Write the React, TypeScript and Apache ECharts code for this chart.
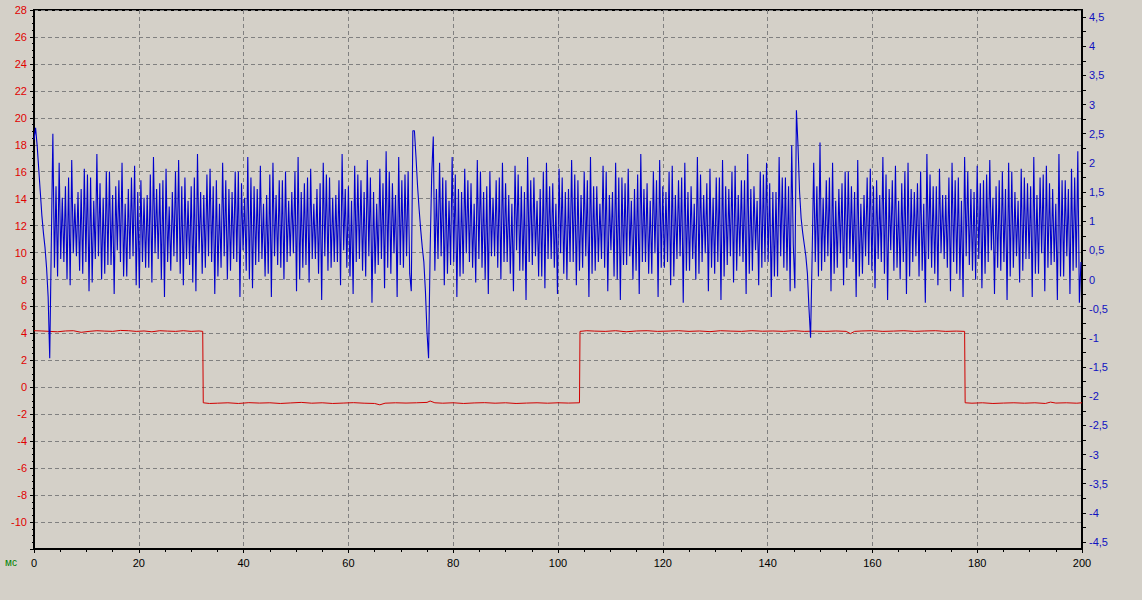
import React, { useEffect, useRef } from "react";
import * as echarts from "echarts";

// X axis (ms)
const X_MIN = 0;
const X_MAX = 200;
const X_INTERVAL = 20;

// Left axis (red)
const LEFT_MIN = -12;
const LEFT_MAX = 28;
const LEFT_INTERVAL = 2;

// Right axis (blue)
const RIGHT_MIN = -4.62;
const RIGHT_MAX = 4.62;
const RIGHT_LABELS = [-4.5, -4, -3.5, -3, -2.5, -2, -1.5, -1, -0.5, 0, 0.5, 1, 1.5, 2, 2.5, 3, 3.5, 4, 4.5];
const RIGHT_TICKS = [
  -4.5, -4.25, -4, -3.75, -3.5, -3.25, -3, -2.75, -2.5, -2.25, -2, -1.75, -1.5, -1.25, -1, -0.75, -0.5, -0.25,
  0, 0.25, 0.5, 0.75, 1, 1.25, 1.5, 1.75, 2, 2.25, 2.5, 2.75, 3, 3.25, 3.5, 3.75, 4, 4.25, 4.5,
];

// Blue trace: one sample every BLUE_STEP ms (right axis units), in consecutive pieces
const BLUE_STEP = 0.3;
const blueStart = [2.4, 2.6, 2.3, 1.9, 1.5, 1.1, 0.8, 0.55, 0.2, -0.3, -1.35, 0.6, 2.5];
const blueSegA = [
  0.2, 1.6, 0.05, 2.0, 0.35, 1.4, 0.3, 1.6, 0.0, 1.75, -0.1, 2.05, 0.45, 1.3, 0.4, 1.5,
  0.15, 1.55, 0.1, 1.9, 0.3, 1.8, -0.2, 1.75, -0.05, 1.35, 0.35, 2.15, 0.4, 1.65, 0.0, 1.4,
  0.1, 1.85, 0.25, 1.85, 0.25, 1.45, -0.25, 1.6, 0.5, 1.7, 0.3, 2.0, 0.05, 1.3, 0.05, 1.55,
  0.35, 1.75, 0.4, 1.95, -0.1, 1.5, -0.15, 1.7, 0.3, 1.4, 0.2, 1.45, 0.2, 1.8, -0.05, 2.1,
  0.45, 1.55, 0.35, 1.65, 0.0, 1.7, -0.3, 1.9, 0.3, 1.25, 0.15, 1.5, 0.4, 1.85, 0.3, 2.05,
  0.1, 1.6, -0.1, 1.75, 0.35, 1.35, 0.25, 1.6, -0.05, 1.75, -0.2, 2.15, 0.45, 1.5, 0.1, 1.45,
  0.2, 1.8, 0.4, 1.9, 0.3, 1.6, -0.25, 1.7, 0.05, 1.3, 0.2, 2.0, 0.4, 1.7, 0.0, 1.55,
  0.15, 1.5, 0.35, 1.85, 0.3, 1.85, -0.3, 1.65, 0.5, 1.4, 0.15, 2.1, 0.0, 1.75, -0.15, 1.6,
  0.25, 1.55, 0.3, 1.95, 0.35, 1.3, 0.05, 1.45, 0.1, 1.8, -0.3, 2.0, 0.4, 1.45, 0.25, 1.7,
  0.2, 1.7, 0.0, 1.85, 0.3, 1.35, 0.4, 1.5, 0.45, 1.85, -0.2, 2.1, 0.0, 1.5, 0.2, 1.65,
  0.25, 1.75, -0.05, 1.9, 0.35, 1.3, 0.35, 1.55, 0.1, 1.65, -0.35, 2.0, 0.4, 1.8, 0.15, 1.75,
  0.2, 1.4, 0.3, 1.45, 0.3, 1.7, -0.1, 2.15, 0.5, 1.55, 0.2, 1.6, 0.05, 1.35, -0.25, 1.95,
  0.3, 1.8, 0.35, 1.7, 0.15, 1.5, 0.05, 2.05, 0.4, 1.75, -0.4, 1.5, 0.1, 1.3, 0.25, 1.9,
  0.35, 1.65, -0.15, 2.2, 0.2, 1.85, 0.1, 1.65, 0.45, 1.45, -0.3, 2.1, 0.25, 1.7, 0.2, 1.8,
  0.4, 1.85, 0.1,
];
const blueEvent2 = [-0.2, 2.55, 2.55, 2.1, 1.6, 1.2, 0.85, 0.55, 0.3, -0.2, -0.9, -1.35, 0.5, 1.8, 2.45];
const blueSegB = [
  0.15, 1.55, 0.35, 2.0, 0.4, 1.75, -0.1, 1.7, 0.1, 1.35, 0.25, 2.1, 0.3, 1.8, -0.3, 1.55,
  0.05, 1.5, 0.1, 1.9, 0.45, 1.7, 0.3, 1.65, 0.2, 1.3, -0.05, 2.05, 0.35, 1.85, 0.2, 1.5,
  0.0, 1.6, -0.25, 1.85, 0.4, 1.4, 0.4, 1.7, 0.2, 1.75, 0.0, 2.0, 0.3, 1.65, 0.3, 1.45,
  0.1, 1.3, -0.2, 1.95, 0.5, 1.8, 0.15, 1.6, 0.15, 1.5, -0.35, 2.1, 0.3, 1.7, 0.25, 1.75,
  0.4, 1.35, 0.05, 1.55, 0.05, 1.85, -0.15, 2.0, 0.35, 1.6, 0.35, 1.65, 0.2, 1.3, -0.25, 1.9,
  0.45, 1.75, 0.1, 1.5, 0.0, 1.55, 0.3, 2.05, 0.3, 1.8, -0.1, 1.7, 0.15, 1.45, 0.2, 1.85,
  0.4, 1.7, -0.3, 2.1, 0.1, 1.6, 0.15, 1.6, 0.3, 1.3, 0.35, 1.95, 0.2, 1.85, -0.2, 1.45,
  0.5, 1.5, 0.05, 2.0, 0.0, 1.75, -0.35, 1.75, 0.25, 1.65, 0.25, 1.9, 0.4, 1.35, 0.0, 1.55,
  0.15, 1.8, -0.25, 2.15, 0.3, 1.55, 0.3, 1.65, 0.1, 1.35, 0.1, 1.85, 0.45, 1.7, -0.3, 2.05,
  0.2, 1.6, 0.2, 1.5, 0.3, 1.85, -0.1, 1.95, 0.05, 1.45, 0.35, 1.7, 0.4, 1.75, -0.4, 2.0,
  0.15, 1.5, 0.15, 1.6, 0.35, 1.3, 0.0, 2.1, 0.1, 1.8, 0.3, 1.45, 0.45, 1.65, -0.2, 1.9,
  0.2, 1.4, 0.1, 1.75, 0.3, 1.75, -0.35, 2.05, 0.05, 1.6, 0.25, 1.55, 0.4, 1.85, -0.05, 1.95,
  0.15, 1.45, 0.4, 1.7, 0.3, 1.7, -0.25, 2.15, 0.1, 1.55, 0.15, 1.6, 0.5, 1.35, -0.1, 1.85,
  0.2, 1.8, 0.3, 2.0, 0.3, 1.65, -0.3, 1.5, 0.05, 1.5, 0.05, 2.1, 0.4, 1.75, 0.2, 1.75,
  0.15, 1.6, -0.2, 2.3,
];
const blueEvent3 = [0.6, -0.15, 2.9, 2.3, 1.5, 1.05, 0.8, 0.6, 0.4, 0.1, -0.5, -1.0, 0.4, 2.0];
const blueSegC = [
  0.3, 1.6, 0.05, 2.35, 0.15, 1.4, 0.3, 1.7, 0.4, 1.75, -0.2, 2.0, 0.1, 1.35, 0.2, 1.55,
  0.45, 1.65, -0.1, 1.85, 0.2, 1.85, 0.35, 1.6, 0.3, 1.5, -0.3, 2.05, 0.05, 1.3, 0.1, 1.45,
  0.4, 1.75, 0.25, 1.9, 0.15, 1.6, -0.15, 1.7, 0.35, 1.45, 0.3, 2.1, 0.1, 1.8, -0.35, 1.55,
  0.5, 1.7, 0.15, 1.95, 0.2, 1.35, 0.0, 1.65, 0.3, 1.85, -0.25, 2.0, 0.05, 1.55, 0.3, 1.5,
  0.4, 1.65, 0.05, 1.85, 0.15, 1.3, -0.4, 2.15, 0.35, 1.8, 0.2, 1.6, 0.1, 1.6, -0.1, 1.9,
  0.45, 1.45, 0.35, 1.45, 0.2, 1.75, -0.2, 2.0, 0.3, 1.7, 0.1, 1.75, 0.0, 1.35, -0.3, 2.1,
  0.4, 1.85, 0.25, 1.55, 0.15, 1.5, 0.0, 1.95, 0.35, 1.65, -0.15, 1.7, 0.1, 1.8, 0.3, 2.05,
  0.5, 1.4, -0.25, 1.6, 0.2, 1.7, 0.15, 1.85, 0.3, 1.55, -0.35, 2.0, 0.05, 1.85, 0.2, 1.5,
  0.4, 1.35, -0.05, 1.9, 0.15, 1.75, 0.35, 1.65, 0.35, 1.6, -0.3, 2.1, 0.1, 1.45, 0.1, 1.75,
  0.45, 1.8, -0.2, 1.95, 0.2, 1.65, 0.25, 1.55, 0.3, 1.3, -0.35, 2.15, 0.05, 1.7, 0.05, 1.7,
  0.4, 1.55, -0.25, 1.9, 0.15, 1.75, 0.2, 2.2,
  -0.4, 0.3,
];
const blueValues = [...blueStart, ...blueSegA, ...blueEvent2, ...blueSegB, ...blueEvent3, ...blueSegC];

// Red trace: [ms, value] (left axis units)
const redPoints: [number, number][] = [
  [0, 4.2], [1.5, 4.18], [3, 4.15], [4.5, 4.12], [6, 4.18], [7.5, 4.2], [9, 4.08], [10.5, 4.15],
  [12, 4.2], [13.5, 4.17], [15, 4.15], [16.5, 4.22], [18, 4.2], [19.5, 4.15], [21, 4.18], [22.5, 4.12],
  [24, 4.2], [25.5, 4.17], [27, 4.15], [28.5, 4.2], [30, 4.15], [31.5, 4.18], [32.2, 4.15],
  [32.3, -1.15], [33.5, -1.2], [35, -1.18], [37, -1.15], [39, -1.2], [41, -1.14], [43, -1.17],
  [45, -1.15], [47, -1.2], [49, -1.16], [51, -1.12], [53, -1.18], [55, -1.15], [57, -1.2], [59, -1.17],
  [61, -1.14], [63, -1.18], [65, -1.2], [66, -1.3], [67, -1.18], [69, -1.15], [71, -1.17], [73, -1.15],
  [75, -1.12], [75.6, -1.02], [76.5, -1.15], [78, -1.18], [80, -1.15], [82, -1.2], [84, -1.16],
  [86, -1.14], [88, -1.18], [90, -1.15], [92, -1.2], [94, -1.17], [96, -1.15], [98, -1.18],
  [100, -1.15], [102, -1.17], [104.1, -1.15],
  [104.2, 4.15], [105.5, 4.2], [107, 4.17], [109, 4.15], [111, 4.2], [113, 4.12], [115, 4.18],
  [117, 4.2], [119, 4.15], [121, 4.17], [123, 4.2], [125, 4.15], [127, 4.18], [129, 4.13],
  [131, 4.2], [133, 4.17], [135, 4.15], [137, 4.2], [139, 4.16], [141, 4.18], [143, 4.15],
  [145, 4.2], [147, 4.15], [149, 4.17], [151, 4.15], [153, 4.18], [155, 4.15], [155.8, 3.98],
  [156.6, 4.15], [158, 4.18], [160, 4.2], [162, 4.15], [164, 4.17], [166, 4.2], [168, 4.15],
  [170, 4.18], [172, 4.2], [174, 4.15], [176, 4.17], [177.6, 4.15],
  [177.7, -1.15], [179, -1.18], [181, -1.15], [183, -1.2], [185, -1.17], [187, -1.15], [189, -1.18],
  [191, -1.15], [193, -1.2], [194, -1.1], [195, -1.17], [197, -1.15], [199, -1.18], [200, -1.15],
];

const FONT = "Liberation Sans, Arial, sans-serif";

export default function App() {
  const ref = useRef<HTMLDivElement>(null);

  useEffect(() => {
    if (!ref.current) return;
    const chart = echarts.init(ref.current, null, { renderer: "svg" });
    const blueData = blueValues.map((v, i) => [Math.round(i * BLUE_STEP * 10) / 10, v]);

    chart.setOption({
      animation: false,
      backgroundColor: "#d4d0c8",
      grid: {
        left: 34,
        right: 60,
        top: 10,
        bottom: 51,
        show: true,
        borderColor: "#000",
        borderWidth: 2,
        backgroundColor: "transparent",
      },
      graphic: [
        {
          type: "text",
          left: 5,
          top: 557,
          style: { text: "мс", fill: "#008000", font: "10px " + FONT },
        },
      ],
      xAxis: {
        type: "value",
        min: X_MIN,
        max: X_MAX,
        interval: X_INTERVAL,
        axisLine: { show: true, onZero: false, lineStyle: { color: "#000", width: 2 } },
        axisTick: { show: true, length: 4, lineStyle: { color: "#000" } },
        minorTick: { show: true, splitNumber: 4, length: 3, lineStyle: { color: "#000" } },
        axisLabel: { color: "#000", fontSize: 11, fontFamily: FONT, margin: 8 },
        splitLine: { show: true, lineStyle: { color: "#808080", type: [4, 3], width: 1 } },
      },
      yAxis: [
        {
          type: "value",
          position: "left",
          min: LEFT_MIN,
          max: LEFT_MAX,
          interval: LEFT_INTERVAL,
          axisLine: { show: true, onZero: false, lineStyle: { color: "#000", width: 2 } },
          axisTick: { show: true, length: 4, lineStyle: { color: "#000" } },
          minorTick: { show: true, splitNumber: 4, length: 2, lineStyle: { color: "#000" } },
          axisLabel: { color: "#e00000", fontSize: 11, fontFamily: FONT, margin: 7, showMinLabel: false },
          splitLine: { show: true, lineStyle: { color: "#808080", type: [4, 3], width: 1 } },
        },
        {
          type: "value",
          position: "right",
          min: RIGHT_MIN,
          max: RIGHT_MAX,
          axisLine: { show: true, onZero: false, lineStyle: { color: "#000", width: 2 } },
          axisTick: { show: true, length: 4, customValues: RIGHT_TICKS, lineStyle: { color: "#000" } },
          axisLabel: {
            color: "#1010c0",
            fontSize: 11,
            fontFamily: FONT,
            margin: 7,
            customValues: RIGHT_LABELS,
            formatter: (v: number) => String(v).replace(".", ","),
          },
          splitLine: { show: false },
        },
      ],
      series: [
        {
          type: "line",
          yAxisIndex: 0,
          data: redPoints,
          showSymbol: false,
          symbol: "none",
          lineStyle: { color: "#d00000", width: 1 },
          z: 2,
        },
        {
          type: "line",
          yAxisIndex: 1,
          data: blueData,
          showSymbol: false,
          symbol: "none",
          lineStyle: { color: "#0000cc", width: 1.1 },
          z: 3,
        },
      ],
    });
    return () => chart.dispose();
  }, []);

  return (
    <div
      ref={ref}
      style={{ position: "absolute", left: 0, top: 0, width: 1142, height: 600, background: "#d4d0c8" }}
    />
  );
}
